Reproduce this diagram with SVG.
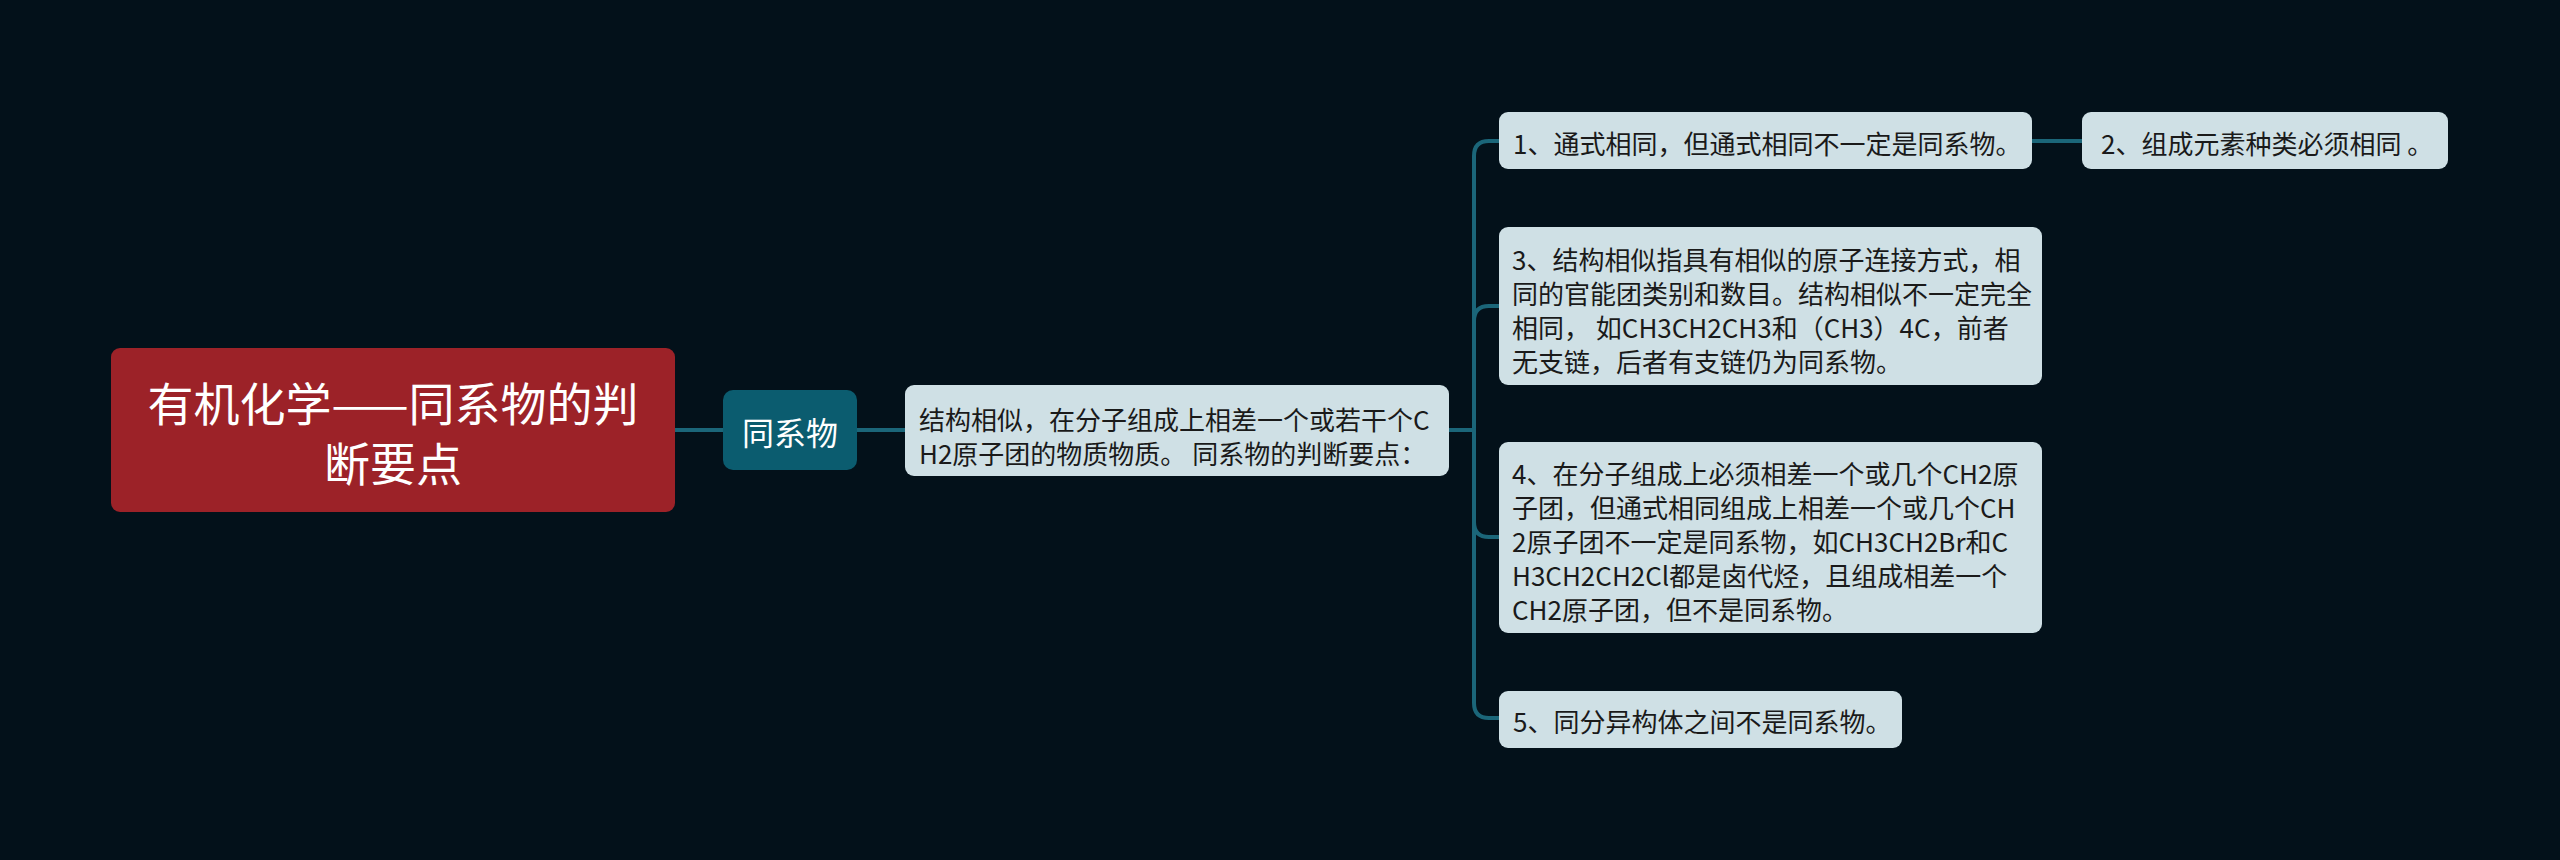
<svg xmlns="http://www.w3.org/2000/svg" width="2560" height="860" viewBox="0 0 2560 860">
<style>
.bg{fill:#03111a}
.root{fill:#9c2228}
.sub{fill:#0b5c6f}
.leaf{fill:#cfe0e5}
.conn{fill:none;stroke:#1b6679;stroke-width:4;stroke-linecap:round}
text{font-family:"Noto Sans CJK SC","Noto Sans",sans-serif;dominant-baseline:central}
.tr{fill:#ffffff;font-size:46px;text-anchor:middle}
.ts{fill:#ffffff;font-size:32px;text-anchor:middle}
.tl{fill:#1a1a1a;font-size:26px}
</style>
<rect class="bg" x="0" y="0" width="2560" height="860"/>
<g id="connectors">
<path class="conn" d="M675 430 H723"/>
<path class="conn" d="M857 430 H905"/>
<path class="conn" d="M1449 430 H1474 V156 Q1474 141 1489 141 H1499"/>
<path class="conn" d="M1474 430 V321 Q1474 306 1489 306 H1499"/>
<path class="conn" d="M1474 430 V522 Q1474 537 1489 537 H1499"/>
<path class="conn" d="M1474 430 V703 Q1474 718 1489 718 H1499"/>
<path class="conn" d="M2032 141 H2082"/>
</g>
<g id="root">
<rect class="root" x="111" y="348" width="564" height="164" rx="9"/>
<text class="tr" x="393" y="401">有机化学——同系物的判</text>
<text class="tr" x="393" y="461">断要点</text>
</g>
<g id="n-tongxiwu">
<rect class="sub" x="723" y="390" width="134" height="80" rx="10"/>
<text class="ts" x="790" y="431">同系物</text>
</g>
<g id="n-desc">
<rect class="leaf" x="905" y="385" width="544" height="91" rx="9"/>
<text class="tl" x="919" y="418">结构相似，在分子组成上相差一个或若干个C</text>
<text class="tl" x="919" y="452">H2原子团的物质物质。 同系物的判断要点：</text>
</g>
<g id="n1">
<rect class="leaf" x="1499" y="112" width="533" height="57" rx="9"/>
<text class="tl" x="1513" y="142">1、通式相同，但通式相同不一定是同系物。</text>
</g>
<g id="n2">
<rect class="leaf" x="2082" y="112" width="366" height="57" rx="9"/>
<text class="tl" x="2101" y="142">2、组成元素种类必须相同 。</text>
</g>
<g id="n3">
<rect class="leaf" x="1499" y="227" width="543" height="158" rx="9"/>
<text class="tl" x="1512" y="258">3、结构相似指具有相似的原子连接方式，相</text>
<text class="tl" x="1512" y="292">同的官能团类别和数目。结构相似不一定完全</text>
<text class="tl" x="1512" y="326">相同， 如CH3CH2CH3和（CH3）4C，前者</text>
<text class="tl" x="1512" y="360">无支链，后者有支链仍为同系物。</text>
</g>
<g id="n4">
<rect class="leaf" x="1499" y="442" width="543" height="191" rx="9"/>
<text class="tl" x="1512" y="472">4、在分子组成上必须相差一个或几个CH2原</text>
<text class="tl" x="1512" y="506">子团，但通式相同组成上相差一个或几个CH</text>
<text class="tl" x="1512" y="540">2原子团不一定是同系物，如CH3CH2Br和C</text>
<text class="tl" x="1512" y="574">H3CH2CH2Cl都是卤代烃，且组成相差一个</text>
<text class="tl" x="1512" y="608">CH2原子团，但不是同系物。</text>
</g>
<g id="n5">
<rect class="leaf" x="1499" y="691" width="403" height="57" rx="9"/>
<text class="tl" x="1513" y="720">5、同分异构体之间不是同系物。</text>
</g>
</svg>
